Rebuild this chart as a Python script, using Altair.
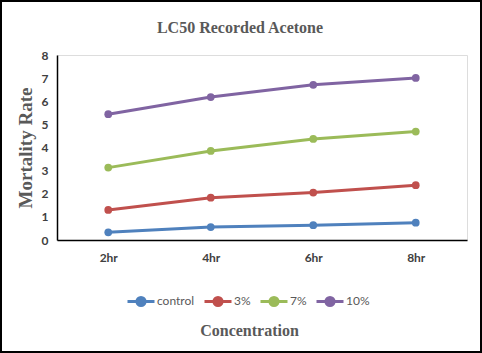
import altair as alt
import pandas as pd

times = ["2hr", "4hr", "6hr", "8hr"]
series = ["control", "3%", "7%", "10%"]
control = [0.33, 0.56, 0.64, 0.75]
p3 = [1.30, 1.83, 2.05, 2.37]
p7 = [3.13, 3.85, 4.37, 4.69]
p10 = [5.44, 6.18, 6.71, 7.01]
colors = ["#4F81BD", "#C0504D", "#9BBB59", "#8064A2"]

rows = []
for name, vals in zip(series, [control, p3, p7, p10]):
    for t, v in zip(times, vals):
        rows.append({"time": t, "series": name, "value": v})
df = pd.DataFrame(rows)

W, H = 410, 185
color = alt.Color(
    "series:N",
    scale=alt.Scale(domain=series, range=colors),
    sort=series,
    legend=alt.Legend(
        title=None,
        orient="none",
        direction="horizontal",
        columns=4,
        legendX=69,
        legendY=231,
        symbolType="M-1,0L1,0M-0.3,0A0.3,0.3 0 1,1 0.3,0A0.3,0.3 0 1,1 -0.3,0",
        symbolSize=729,
        symbolStrokeWidth=3,
        labelFont="Lato",
        labelFontSize=12,
        labelColor="#595959",
        labelOffset=1,
        columnPadding=3,
    ),
)

x = alt.X(
    "time:N",
    sort=times,
    scale=alt.Scale(domain=times, paddingInner=0, paddingOuter=0.5),
    axis=alt.Axis(
        title="Concentration",
        titleFont="Liberation Serif",
        titleFontSize=16,
        titleFontWeight="bold",
        titleColor="#595959",
        titleX=192,
        titleY=90,
        titleAlign="center",
        titleBaseline="middle",
        labelAngle=0,
        labelFont="Lato",
        labelFontWeight="bold",
        labelFontSize=12,
        labelColor="#404040",
        labelPadding=12,
        ticks=False,
        domainColor="black",
        domainWidth=1.5,
    ),
)
y = alt.Y(
    "value:Q",
    scale=alt.Scale(domain=[0, 8]),
    axis=alt.Axis(
        title="Mortality Rate",
        titleFont="Liberation Serif",
        titleFontSize=19,
        titleFontWeight="bold",
        titleColor="#595959",
        titleX=-32,
        titleY=H / 2,
        titleBaseline="middle",
        values=list(range(9)),
        labelFont="Lato",
        labelFontWeight="bold",
        labelFontSize=12,
        labelColor="#404040",
        labelPadding=9,
        ticks=False,
        grid=False,
        domainColor="black",
        domainWidth=1.5,
    ),
)

base = alt.Chart(df)
lines = base.mark_line(strokeWidth=3).encode(x=x, y=y, color=color)
pts = base.mark_circle(size=60, opacity=1).encode(
    x=x, y=y,
    color=alt.Color("series:N", scale=alt.Scale(domain=series, range=colors), legend=None),
)

frame = alt.Chart(pd.DataFrame({"a": [0]})).mark_rect(
    fill=None, stroke="black", strokeWidth=2
).encode(
    x=alt.value(-56), x2=alt.value(424), y=alt.value(-54), y2=alt.value(297)
)

chart = alt.layer(lines, pts, frame).properties(
    width=W,
    height=H,
    padding={"left": 57, "top": 55, "right": 15, "bottom": 113},
    autosize=alt.AutoSizeParams(type="none"),
    title=alt.TitleParams(
        "LC50 Recorded Acetone",
        font="Liberation Serif",
        fontSize=16,
        fontWeight="bold",
        color="#595959",
        anchor="middle",
        frame="group",
        offset=-36,
        dx=-22,
    ),
).configure_view(stroke=None).configure(background="white")

chart.save("out.html", embed_options={"renderer": "svg", "actions": False})
